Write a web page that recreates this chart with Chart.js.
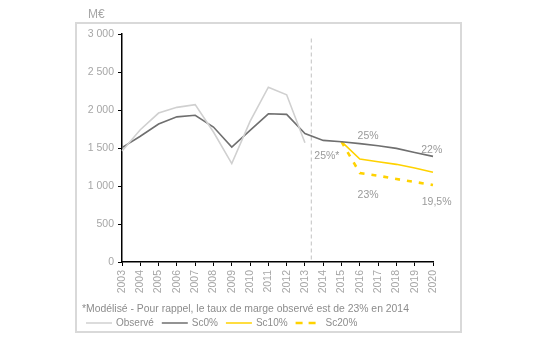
<!DOCTYPE html>
<html><head><meta charset="utf-8">
<script src="https://cdn.jsdelivr.net/npm/chart.js@4/dist/chart.umd.min.js"></script>
<style>html,body{margin:0;padding:0;background:#fff}</style>
</head><body>
<canvas id="c" width="554" height="355"></canvas>
<script>
const years = ['2003','2004','2005','2006','2007','2008','2009','2010','2011','2012','2013','2014','2015','2016','2017','2018','2019','2020'];
const observe = [1460, 1740, 1960, 2035, 2070, 1710, 1295, 1850, 2300, 2200, 1570, null, null, null, null, null, null, null];
const sc0 = [1505, 1655, 1815, 1910, 1930, 1776, 1512, 1732, 1950, 1942, 1690, 1600, 1583, 1557, 1530, 1495, 1442, 1390];
const sc10 = [null, null, null, null, null, null, null, null, null, null, null, null, 1583, 1355, 1320, 1285, 1237, 1180];
const sc20 = [null, null, null, null, null, null, null, null, null, null, null, null, 1583, 1171, 1136, 1092, 1053, 1013];
const yTicks = [0, 500, 1000, 1500, 2000, 2500, 3000];
const seriesNames = ['Observé', 'Sc0%', 'Sc10%', 'Sc20%'];
const annotTexts = ['25%', '22%', '25%*', '23%', '19,5%'];
const footnote = '*Modélisé - Pour rappel, le taux de marge observé est de 23% en 2014';
const unitLabel = 'M€';

const FONT = '"Liberation Sans", Arial, sans-serif';
const GREY = '#a6a6a6';
const colors = ['#d0d0d0', '#6f6f6f', '#ffd200', '#ffd200'];

const annotPos = [[13.45, 1662], [16.93, 1478], [11.2, 1399], [13.45, 885], [17.2, 793]];

const decor = {
  id: 'decor',
  beforeDraw(chart) {
    const ctx = chart.ctx;
    ctx.save();
    ctx.strokeStyle = '#d9d9d9';
    ctx.lineWidth = 2;
    ctx.strokeRect(76, 23, 385, 309);
    ctx.fillStyle = GREY;
    ctx.font = '12px ' + FONT;
    ctx.textBaseline = 'middle';
    ctx.textAlign = 'left';
    ctx.fillText(unitLabel, 88, 15);
    const x = chart.scales.x.getPixelForValue(10.35);
    const y0 = chart.scales.y.getPixelForValue(2940);
    const y1 = chart.scales.y.getPixelForValue(0);
    ctx.strokeStyle = '#cccccc';
    ctx.lineWidth = 1.2;
    ctx.setLineDash([4, 3]);
    ctx.beginPath();
    ctx.moveTo(x, y0); ctx.lineTo(x, y1);
    ctx.stroke();
    ctx.restore();
  },
  afterDraw(chart) {
    const ctx = chart.ctx;
    const sx = chart.scales.x, sy = chart.scales.y;
    ctx.save();
    ctx.fillStyle = '#9a9a9a';
    ctx.font = '10.5px ' + FONT;
    ctx.textAlign = 'center';
    ctx.textBaseline = 'middle';
    annotTexts.forEach((t, i) => {
      ctx.fillText(t, sx.getPixelForValue(annotPos[i][0]), sy.getPixelForValue(annotPos[i][1]));
    });
    ctx.textAlign = 'left';
    ctx.fillStyle = '#8c8c8c';
    ctx.font = '10.4px ' + FONT;
    ctx.fillText(footnote, 82, 309);
    ctx.font = '10px ' + FONT;
    let lx = 86;
    const ly = 323;
    chart.data.datasets.forEach((ds) => {
      ctx.strokeStyle = ds.borderColor;
      ctx.lineWidth = ds.borderDash ? 2.5 : 1.5;
      ctx.setLineDash(ds.borderDash ? [7, 6] : []);
      ctx.beginPath();
      ctx.moveTo(lx, ly); ctx.lineTo(lx + 26, ly);
      ctx.stroke();
      ctx.setLineDash([]);
      ctx.fillStyle = '#8c8c8c';
      ctx.fillText(ds.label, lx + 30, ly);
      lx += 30 + ctx.measureText(ds.label).width + 8;
    });
    ctx.restore();
  }
};

new Chart(document.getElementById('c'), {
  type: 'line',
  data: {
    labels: years,
    datasets: [
      { label: seriesNames[0], data: observe, borderColor: colors[0], borderWidth: 1.6, pointRadius: 0, spanGaps: false },
      { label: seriesNames[1], data: sc0, borderColor: colors[1], borderWidth: 1.6, pointRadius: 0 },
      { label: seriesNames[2], data: sc10, borderColor: colors[2], borderWidth: 1.6, pointRadius: 0 },
      { label: seriesNames[3], data: sc20, borderColor: colors[3], borderWidth: 2.6, borderDash: [5, 7], pointRadius: 0 }
    ]
  },
  options: {
    responsive: false,
    animation: false,
    events: [],
    layout: { padding: { top: 34, right: 121, bottom: 58, left: 0 } },
    plugins: { legend: { display: false }, tooltip: { enabled: false } },
    scales: {
      x: {
        type: 'category',
        offset: false,
        afterFit(s) { s.height = 35; },
        grid: { display: true, drawOnChartArea: false, drawTicks: true, tickLength: 4, color: '#000', lineWidth: 1 },
        border: { display: true, color: '#000', width: 1.5 },
        ticks: { autoSkip: false, minRotation: 90, maxRotation: 90, padding: 4, color: GREY, font: { family: FONT, size: 10.5 } }
      },
      y: {
        min: 0, max: 3000,
        afterFit(s) { s.width = 122; },
        afterBuildTicks(s) { s.ticks = yTicks.map(v => ({ value: v })); },
        grid: { display: true, drawOnChartArea: false, drawTicks: true, tickLength: 4, color: '#000', lineWidth: 1 },
        border: { display: true, color: '#000', width: 1.5 },
        ticks: {
          padding: 4, color: GREY, font: { family: FONT, size: 10.5 },
          callback: v => String(v).replace(/\B(?=(\d{3})+(?!\d))/g, ' ')
        }
      }
    }
  },
  plugins: [decor]
});
</script>
</body></html>
